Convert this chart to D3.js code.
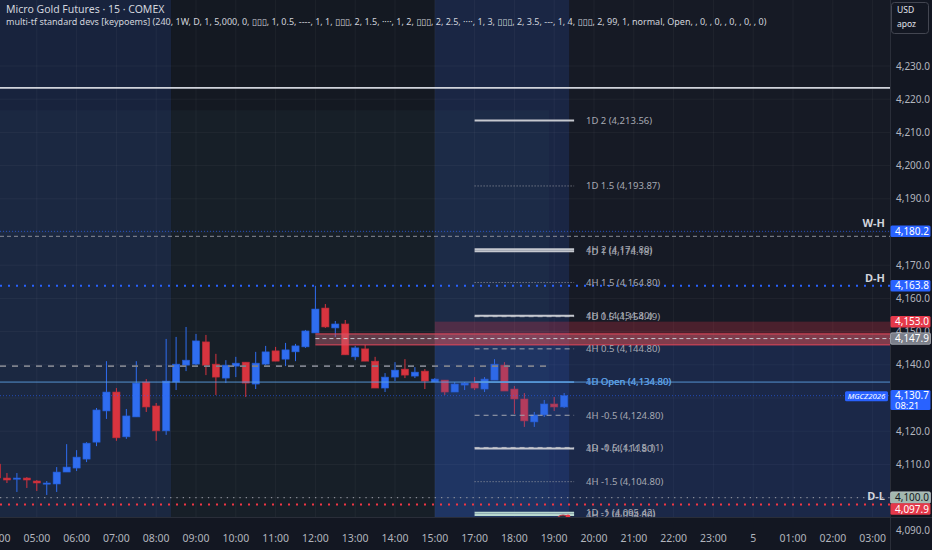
<!DOCTYPE html>
<html>
<head>
<meta charset="utf-8">
<script src="https://cdn.jsdelivr.net/npm/d3@7"></script>
<style>
  body { margin: 0; background: #161a25; overflow: hidden; }
  svg { display: block; font-family: "Noto Sans", "DejaVu Sans", sans-serif; }
</style>
</head>
<body>
<div id="chart"></div>
<script>
// 15 min bars, index 0 = 04:00
var opens = [4110.1, 4105.9, 4105.6, 4105.9, 4105.0, 4104.2, 4104.1, 4107.7, 4108.9, 4111.6,
  4116.7, 4126.1, 4131.8, 4118.3, 4124.3, 4134.8, 4127.6, 4120.1, 4134.8, 4139.9,
  4140.2, 4146.9, 4140.2, 4136.0, 4139.6, 4140.8, 4134.2, 4140.2, 4144.2, 4141.7,
  4143.9, 4145.4, 4149.6, 4157.1, 4151.1, 4152.3, 4142.4, 4144.8, 4141.1, 4133.0,
  4136.3, 4138.7, 4136.6, 4138.1, 4134.8, 4135.4, 4131.8, 4133.9, 4134.5, 4132.7,
  4135.4, 4139.9, 4132.7, 4129.7, 4122.8, 4124.9, 4128.2, 4127.3];
var highs = [4111.0, 4107.4, 4107.4, 4106.2, 4105.3, 4105.0, 4109.2, 4116.1, 4114.3, 4116.7,
  4127.0, 4141.1, 4133.0, 4126.7, 4141.1, 4135.7, 4128.5, 4147.8, 4148.4, 4151.4,
  4149.3, 4149.0, 4143.3, 4141.4, 4142.4, 4140.8, 4143.9, 4145.7, 4145.4, 4146.6,
  4146.3, 4150.5, 4163.8, 4158.3, 4153.2, 4153.5, 4145.7, 4146.0, 4142.4, 4137.5,
  4140.8, 4141.7, 4139.3, 4138.7, 4136.0, 4135.4, 4134.8, 4134.8, 4136.3, 4136.3,
  4141.7, 4140.8, 4133.6, 4131.5, 4125.8, 4129.4, 4130.3, 4131.5];
var lows = [4105.3, 4104.4, 4101.7, 4102.9, 4102.0, 4100.8, 4101.7, 4107.7, 4108.0, 4110.7,
  4115.5, 4123.7, 4117.1, 4117.7, 4124.3, 4125.8, 4117.1, 4118.9, 4132.4, 4138.1,
  4139.9, 4136.9, 4130.9, 4134.5, 4136.3, 4130.3, 4132.7, 4139.9, 4141.1, 4139.6,
  4141.1, 4145.1, 4149.6, 4151.1, 4148.4, 4143.0, 4141.4, 4141.1, 4133.0, 4131.8,
  4135.1, 4136.0, 4136.0, 4132.7, 4134.8, 4130.9, 4131.8, 4132.4, 4132.4, 4131.8,
  4135.4, 4132.1, 4125.2, 4121.3, 4121.3, 4124.3, 4126.1, 4127.0];
var closes = [4105.9, 4105.3, 4105.9, 4105.3, 4104.4, 4104.4, 4107.7, 4109.2, 4112.2, 4116.4,
  4126.4, 4131.8, 4118.0, 4124.6, 4134.5, 4127.3, 4120.1, 4135.1, 4140.2, 4141.4,
  4147.2, 4139.9, 4136.3, 4139.9, 4140.5, 4134.5, 4140.5, 4143.9, 4141.1, 4144.5,
  4145.7, 4150.2, 4156.8, 4151.4, 4152.3, 4143.0, 4145.1, 4141.1, 4133.0, 4136.3,
  4138.4, 4136.9, 4137.8, 4135.1, 4135.7, 4131.8, 4134.2, 4134.5, 4133.0, 4135.7,
  4140.2, 4132.1, 4129.7, 4123.1, 4124.9, 4128.2, 4127.3, 4130.7];

// time axis labels (bar index of each label)
var timeLabels = ["04:00", "05:00", "06:00", "07:00", "08:00", "09:00", "10:00", "11:00", "12:00",
  "13:00", "14:00", "15:00", "17:00", "18:00", "19:00", "20:00", "21:00", "22:00", "23:00",
  "5", "01:00", "02:00", "03:00"];
var timeIndex = [0, 4, 8, 12, 16, 20, 24, 28, 32, 36, 40, 44, 48, 52, 56, 60, 64, 68, 72, 76, 80, 84, 88];

// price axis ticks
var priceTicks = [4230, 4220, 4210, 4200, 4190, 4180, 4170, 4160, 4150, 4140, 4130, 4120, 4110, 4100, 4090];
var hiddenTicks = [4180, 4130, 4100];

// standard deviation levels of the indicator
var levelNames = ["1D 2", "1D 1.5", "1D 1", "4H 2", "4H 1.5", "1D 0.5", "4H 1", "4H 0.5",
  "1D Open", "4H Open", "4H -0.5", "1D -0.5", "4H -1", "4H -1.5", "1D -1", "4H -2"];
var levelValues = [4213.56, 4193.87, 4174.18, 4174.80, 4164.80, 4154.49, 4154.80, 4144.80,
  4134.80, 4134.80, 4124.80, 4115.11, 4114.80, 4104.80, 4095.42, 4094.80];
var levelStyles = ["solid", "dotted", "solid", "solid", "dotted", "dashed", "solid", "dashed",
  "open", "open", "dashed", "dashed", "solid", "dotted", "solid", "solid"];

// price tags on the right scale
var tagValues = [4180.2, 4163.8, 4153.0, 4147.9, 4130.7, 4100.0, 4097.9];
var tagFills = ["#2962ff", "#2962ff", "#e5394a", "#7b7f8a", "#2962ff", "#a3b8b0", "#e5394a"];
var tagTextColors = ["#fff", "#fff", "#fff", "#fff", "#fff", "#131722", "#fff"];

// key levels
var weekHigh = 4180.2, weekMid = 4178.7, dayHigh = 4163.8, dayLow = 4100.0, lowRed = 4097.9;
var topLine = 4223.4, prevMid = 4139.6, openLine = 4134.8, lastPrice = 4130.7;
var zoneTop = 4153.0, zoneBandTop = 4149.3, zoneBottom = 4146.0, zoneMid = 4147.9;

var width = 932, height = 550;
var plotW = 890, plotH = 517;

var x = d3.scaleLinear().domain([0, 88]).range([-3, -3 + 88 * 9.95]);
var y = d3.scaleLinear().domain([4094.16, 4249.88]).range([plotH, 0]);

var svg = d3.select("#chart").append("svg").attr("width", width).attr("height", height);

var defs = svg.append("defs");
defs.append("clipPath").attr("id", "plot-clip")
  .append("rect").attr("width", plotW).attr("height", plotH);
defs.append("clipPath").attr("id", "time-clip")
  .append("rect").attr("y", plotH).attr("width", plotW).attr("height", height - plotH);

var plot = svg.append("g").attr("clip-path", "url(#plot-clip)");

// Background session bands
plot.append("rect").attr("width", plotW).attr("height", plotH).attr("fill", "#161a25");
plot.append("rect").attr("x", 0).attr("width", x(17.5)).attr("height", plotH).attr("fill", "#18233d");
plot.append("rect").attr("x", x(17.5)).attr("width", x(44) - x(17.5)).attr("height", plotH).attr("fill", "#141922");
plot.append("rect").attr("x", x(44)).attr("width", x(57.5) - x(44)).attr("height", plotH).attr("fill", "#1a2644");
// faint box of the earlier range
plot.append("rect").attr("x", 0).attr("y", y(4216.7))
  .attr("width", x(55.5)).attr("height", plotH - y(4216.7))
  .attr("fill", "#3a6a70").attr("opacity", 0.08);

// Grid
plot.selectAll(".vgrid").data(timeIndex).enter().append("line")
  .attr("x1", (d) => x(d)).attr("x2", (d) => x(d))
  .attr("y1", 0).attr("y2", plotH)
  .attr("stroke", "#ffffff").attr("stroke-opacity", 0.045);
plot.selectAll(".hgrid").data(priceTicks).enter().append("line")
  .attr("x1", 0).attr("x2", plotW)
  .attr("y1", (d) => y(d)).attr("y2", (d) => y(d))
  .attr("stroke", "#ffffff").attr("stroke-opacity", 0.045);

// Candles
var bars = d3.range(opens.length);
var upColor = "#2f6df0", downColor = "#d8343f";
var candles = plot.append("g");
candles.selectAll("line").data(bars).enter().append("line")
  .attr("x1", (i) => x(i)).attr("x2", (i) => x(i))
  .attr("y1", (i) => y(highs[i])).attr("y2", (i) => y(lows[i]))
  .attr("stroke", (i) => (closes[i] >= opens[i] ? upColor : downColor))
  .attr("stroke-width", 1);
candles.selectAll("rect").data(bars).enter().append("rect")
  .attr("x", (i) => x(i) - 3.6)
  .attr("width", 7.2)
  .attr("y", (i) => y(Math.max(opens[i], closes[i])))
  .attr("height", (i) => Math.max(1.2, Math.abs(y(opens[i]) - y(closes[i]))))
  .attr("fill", (i) => (closes[i] >= opens[i] ? upColor : downColor))
  .attr("stroke", (i) => (closes[i] >= opens[i] ? "#245bd0" : "#b82c37"))
  .attr("stroke-width", 0.6);

// Blue range box below the supply zone
plot.append("rect").attr("x", x(44)).attr("y", y(zoneBottom))
  .attr("width", plotW - x(44)).attr("height", plotH - y(zoneBottom))
  .attr("fill", "#2d5ac8").attr("opacity", 0.22);

// Supply zone boxes
plot.append("rect").attr("x", x(44)).attr("y", y(zoneTop))
  .attr("width", plotW - x(44)).attr("height", y(zoneBottom) - y(zoneTop))
  .attr("fill", "#f23645").attr("opacity", 0.24);
plot.append("rect").attr("x", x(32)).attr("y", y(zoneBandTop))
  .attr("width", plotW - x(32)).attr("height", y(zoneBottom) - y(zoneBandTop))
  .attr("fill", "#c86478").attr("opacity", 0.42);
[zoneBandTop, zoneBottom].forEach(function (p) {
  plot.append("line").attr("x1", x(32)).attr("x2", plotW)
    .attr("y1", y(p)).attr("y2", y(p))
    .attr("stroke", "#e5475a").attr("stroke-width", 1);
});
plot.append("line").attr("x1", x(32)).attr("x2", plotW)
  .attr("y1", y(zoneMid)).attr("y2", y(zoneMid))
  .attr("stroke", "#c8cad0").attr("stroke-width", 1).attr("stroke-dasharray", "4,3");

// Full width horizontal lines
function hline(price, x1, color, w, dash, op) {
  plot.append("line").attr("x1", x1).attr("x2", plotW)
    .attr("y1", y(price)).attr("y2", y(price))
    .attr("stroke", color).attr("stroke-width", w)
    .attr("stroke-dasharray", dash).attr("stroke-opacity", op);
}
hline(topLine, 0, "#d1d4dc", 1.6, null, 1);
hline(weekHigh, 0, "#2962ff", 1, "1,2", 0.7);
hline(weekMid, 0, "#9598a1", 1, "4,3", 0.9);
hline(dayHigh, 0, "#2962ff", 2, "2,6", 1);
hline(openLine, 0, "#5b9ee0", 1, null, 0.9);
hline(lastPrice, 0, "#2962ff", 1, "1,2", 0.6);
hline(dayLow, 0, "#9598a1", 1.3, "1.3,5", 0.9);
hline(lowRed, 0, "#f23645", 2, "2,6", 1);

// previous range midline, stops at the box end
plot.append("line").attr("x1", 0).attr("x2", x(55.5))
  .attr("y1", y(prevMid)).attr("y2", y(prevMid))
  .attr("stroke", "#7d818c").attr("stroke-width", 1.6).attr("stroke-dasharray", "6,6");

// Indicator levels
var fmt2 = d3.format(",.2f");
var lv = plot.append("g");
levelValues.forEach(function (v, i) {
  var st = levelStyles[i];
  var line = lv.append("line").attr("x1", x(48)).attr("x2", x(58))
    .attr("y1", y(v)).attr("y2", y(v));
  if (st === "solid") {
    line.attr("stroke", i >= 14 ? "#b9d8cf" : "#c5c8cf").attr("stroke-width", 2);
  } else if (st === "dotted") {
    line.attr("stroke", "#9598a1").attr("stroke-width", 1).attr("stroke-dasharray", "1,2");
  } else if (st === "dashed") {
    line.attr("stroke", "#a3a6af").attr("stroke-width", 1).attr("stroke-dasharray", "5,4");
  } else {
    line.attr("stroke", "#5b9ee0").attr("stroke-width", 1);
  }
  lv.append("text").attr("x", 586).attr("y", y(v)).attr("dy", "0.35em")
    .attr("font-size", "9.5px")
    .attr("fill", st === "open" ? "#5b9ee0" : "#a6a9b2")
    .text(levelNames[i] + " (" + fmt2(v) + ")");
});

// Named level labels
[["W-H", weekHigh, -8], ["D-H", dayHigh, -8], ["D-L", dayLow, -1]].forEach(function (d) {
  plot.append("text").attr("x", 885).attr("y", y(d[1]) + d[2]).attr("dy", "0.35em")
    .attr("text-anchor", "end").attr("font-size", "11px").attr("font-weight", "bold")
    .attr("fill", "#d1d4dc").text(d[0]);
});

// Symbol tag next to the last price
plot.append("rect").attr("x", 845).attr("y", y(lastPrice) - 4.5).attr("width", 43).attr("height", 10)
  .attr("rx", 1.5).attr("fill", "#2962ff");
plot.append("text").attr("x", 866.5).attr("y", y(lastPrice) + 0.5).attr("dy", "0.35em")
  .attr("text-anchor", "middle").attr("font-size", "7.8px").attr("font-style", "italic")
  .attr("fill", "#fff").text("MGCZ2026");

// Alert icon
var icon = svg.append("g").attr("transform", "translate(563,522)");
icon.append("circle").attr("r", 7).attr("fill", "#2a2e39").attr("stroke", "#c0394a").attr("stroke-width", 1.2);
icon.append("path").attr("d", "M1.5,-4 L-2.5,0.8 L0,0.8 L-1.5,4 L2.5,-0.8 L0,-0.8 Z").attr("fill", "#d1d4dc");
icon.append("circle").attr("cx", 5).attr("cy", -5).attr("r", 2.4).attr("fill", "#f23645");

// Axes panels
svg.append("rect").attr("x", plotW).attr("width", width - plotW).attr("height", height).attr("fill", "#131722");
svg.append("rect").attr("y", plotH).attr("width", plotW).attr("height", height - plotH).attr("fill", "#131722");
svg.append("line").attr("x1", plotW + 0.5).attr("x2", plotW + 0.5).attr("y1", 0).attr("y2", height)
  .attr("stroke", "#2a2e39");
svg.append("line").attr("x1", 0).attr("x2", width).attr("y1", plotH + 0.5).attr("y2", plotH + 0.5)
  .attr("stroke", "#2a2e39");

// time axis
svg.append("g").attr("clip-path", "url(#time-clip)")
  .selectAll("text").data(timeIndex).enter().append("text")
  .attr("x", (d) => x(d)).attr("y", 542)
  .attr("text-anchor", "middle").attr("font-size", "10.5px").attr("fill", "#b2b5be")
  .text((d, i) => timeLabels[i]);

// price axis
var fmt1 = d3.format(",.1f");
svg.selectAll(".ptick").data(priceTicks.filter((p) => hiddenTicks.indexOf(p) < 0)).enter().append("text")
  .attr("x", 896).attr("y", (d) => y(d)).attr("dy", "0.35em")
  .attr("font-size", "10px").attr("fill", "#b2b5be")
  .text((d) => fmt1(d));

// tags, pushed down when they would overlap the one above
var tagH = 11.5;
var prevBottom = -Infinity;
tagValues.forEach(function (v, i) {
  var isLast = v === lastPrice;
  var h = isLast ? 20 : tagH;
  var top = Math.max(y(v) - tagH / 2, prevBottom);
  prevBottom = top + h;
  svg.append("rect").attr("x", plotW + 0.5).attr("y", top).attr("width", 40).attr("height", h)
    .attr("rx", 1.5).attr("fill", tagFills[i])
    .attr("stroke", i === 3 || i === 5 ? "#c9ccd3" : "none").attr("stroke-width", 0.6);
  svg.append("text").attr("x", 895).attr("y", top + tagH / 2).attr("dy", "0.35em")
    .attr("font-size", "10px").attr("fill", tagTextColors[i]).text(fmt1(v));
  if (isLast) {
    svg.append("text").attr("x", 895).attr("y", top + tagH / 2 + 9.5).attr("dy", "0.35em")
      .attr("font-size", "9.5px").attr("fill", "#fff").text("08:21");
  }
});

// currency box
svg.append("rect").attr("x", 891.5).attr("y", 2.5).attr("width", 37).attr("height", 31).attr("rx", 3)
  .attr("fill", "#131722").attr("stroke", "#434651");
svg.append("text").attr("x", 897).attr("y", 13).attr("font-size", "8.5px").attr("fill", "#e0e3eb").text("USD");
svg.append("text").attr("x", 897).attr("y", 27).attr("font-size", "8.5px").attr("fill", "#e0e3eb").text("apoz");

// Header
svg.append("text").attr("x", 6).attr("y", 13).attr("font-size", "10.5px").attr("fill", "#d1d4dc")
  .text("Micro Gold Futures · 15 · COMEX");
svg.append("text").attr("x", 6).attr("y", 24.5).attr("font-size", "9px").attr("fill", "#d1d4dc")
  .text("multi-tf standard devs [keypoems] (240, 1W, D, 1, 5,000, 0, ▯▯▯, 1, 0.5, ----, 1, 1, ▯▯▯, 2, 1.5, ····, 1, 2, ▯▯▯, 2, 2.5, ····, 1, 3, ▯▯▯, 2, 3.5, ---, 1, 4, ▯▯▯, 2, 99, 1, normal, Open, , 0, , 0, , 0, , 0, , 0)");
</script>
</body>
</html>
